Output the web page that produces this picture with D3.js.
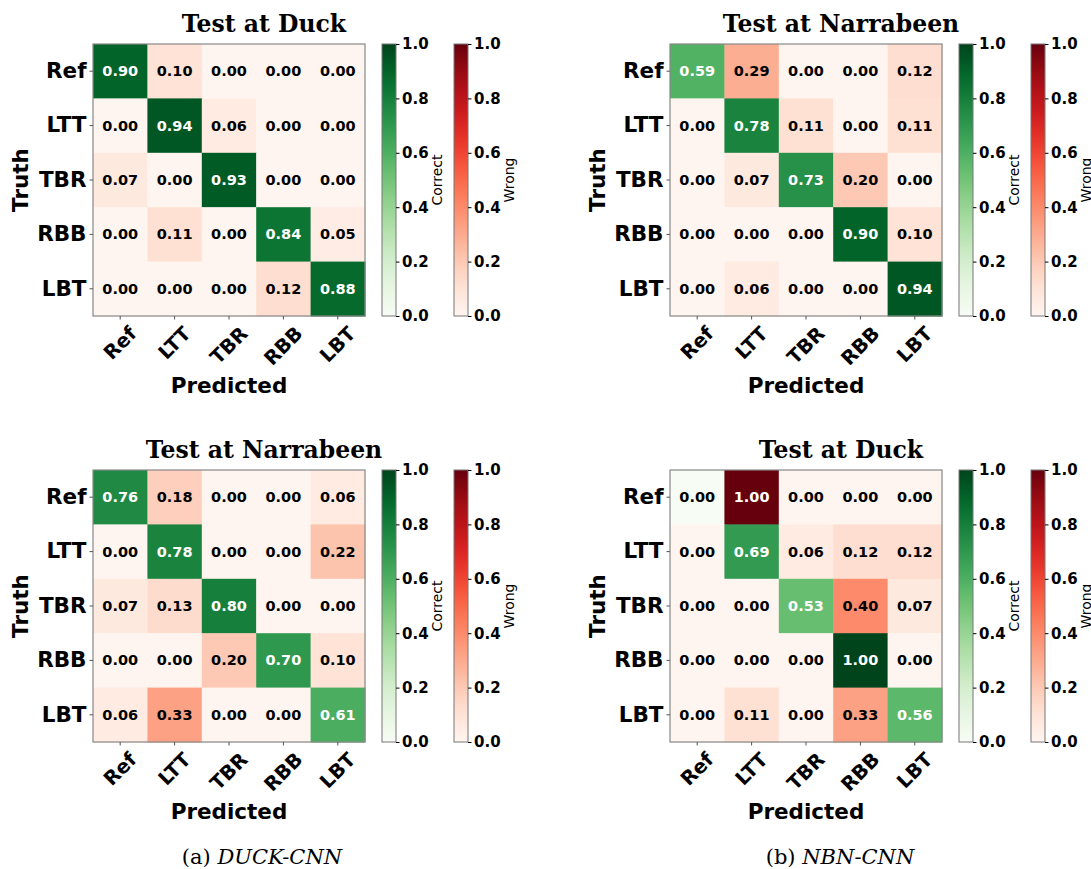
<!DOCTYPE html>
<html>
<head>
<meta charset="utf-8">
<script src="https://cdn.jsdelivr.net/npm/d3@7"></script>
<style>
  body { margin: 0; background: #fff; }
  svg { display: block; }
</style>
</head>
<body>
<svg class="confusion"></svg>
<script>
// classes along both axes
const classes = ['Ref', 'LTT', 'TBR', 'RBB', 'LBT'];

// rows = truth, columns = predicted
const duckCnnAtDuck = [
	[0.90, 0.10, 0.00, 0.00, 0.00],
	[0.00, 0.94, 0.06, 0.00, 0.00],
	[0.07, 0.00, 0.93, 0.00, 0.00],
	[0.00, 0.11, 0.00, 0.84, 0.05],
	[0.00, 0.00, 0.00, 0.12, 0.88]
];
const nbnCnnAtNarrabeen = [
	[0.59, 0.29, 0.00, 0.00, 0.12],
	[0.00, 0.78, 0.11, 0.00, 0.11],
	[0.00, 0.07, 0.73, 0.20, 0.00],
	[0.00, 0.00, 0.00, 0.90, 0.10],
	[0.00, 0.06, 0.00, 0.00, 0.94]
];
const duckCnnAtNarrabeen = [
	[0.76, 0.18, 0.00, 0.00, 0.06],
	[0.00, 0.78, 0.00, 0.00, 0.22],
	[0.07, 0.13, 0.80, 0.00, 0.00],
	[0.00, 0.00, 0.20, 0.70, 0.10],
	[0.06, 0.33, 0.00, 0.00, 0.61]
];
const nbnCnnAtDuck = [
	[0.00, 1.00, 0.00, 0.00, 0.00],
	[0.00, 0.69, 0.06, 0.12, 0.12],
	[0.00, 0.00, 0.53, 0.40, 0.07],
	[0.00, 0.00, 0.00, 1.00, 0.00],
	[0.00, 0.11, 0.00, 0.33, 0.56]
];

const panelTitles = ['Test at Duck', 'Test at Narrabeen', 'Test at Narrabeen', 'Test at Duck'];
const colorbarTicks = [0, 0.2, 0.4, 0.6, 0.8, 1.0];
const captionTags = ['(a) ', '(b) '];
const captionNames = ['DUCK-CNN', 'NBN-CNN'];

const svg = d3.select('.confusion')
	.attr('width', 1091)
	.attr('height', 869);

const size = 272,
	panelOrigins = [[93, 44], [670, 44], [93, 470], [670, 470]],
	matrices = [duckCnnAtDuck, nbnCnnAtNarrabeen, duckCnnAtNarrabeen, nbnCnnAtDuck],
	sans = 'DejaVu Sans, sans-serif',
	serif = 'DejaVu Serif, serif';

const xScale = d3.scaleBand().domain(classes).range([0, size]);
const yScale = d3.scaleBand().domain(classes).range([0, size]);
const cbScale = d3.scaleLinear().domain([0, 1]).range([size, 0]);

// gradients for colorbars
const defs = svg.append('defs');
[['gradGreens', d3.interpolateGreens], ['gradReds', d3.interpolateReds]].forEach(([id, interp]) => {
	const grad = defs.append('linearGradient')
		.attr('id', id)
		.attr('x1', 0).attr('y1', 1).attr('x2', 0).attr('y2', 0);
	d3.range(0, 1.0001, 0.05).forEach(t => {
		grad.append('stop').attr('offset', t).attr('stop-color', interp(t));
	});
});

const drawPanel = (matrix, title, origin) => {
	const g = svg.append('g')
		.attr('transform', `translate(${origin[0]}, ${origin[1]})`);

	const cells = [];
	matrix.forEach((row, i) => row.forEach((v, j) => cells.push({ truth: classes[i], pred: classes[j], v, diag: i === j })));

	const fillOf = d => d.diag ? d3.interpolateGreens(d.v) : d3.interpolateReds(d.v);

	g.selectAll('rect.cell')
		.data(cells)
		.enter().append('rect')
		.attr('class', 'cell')
		.attr('x', d => xScale(d.pred))
		.attr('y', d => yScale(d.truth))
		.attr('width', xScale.bandwidth() + 0.5)
		.attr('height', yScale.bandwidth() + 0.5)
		.attr('fill', fillOf);

	g.selectAll('text.val')
		.data(cells)
		.enter().append('text')
		.attr('class', 'val')
		.attr('x', d => xScale(d.pred) + xScale.bandwidth() / 2)
		.attr('y', d => yScale(d.truth) + yScale.bandwidth() / 2)
		.attr('text-anchor', 'middle')
		.attr('dominant-baseline', 'central')
		.attr('font-family', sans)
		.attr('font-weight', 'bold')
		.attr('font-size', 14.5)
		.attr('fill', d => d.v > 0.5 ? '#fff' : '#000')
		.text(d => d.v.toFixed(2));

	g.append('rect')
		.attr('width', size).attr('height', size)
		.attr('fill', 'none')
		.attr('stroke', '#888')
		.attr('stroke-width', 1.2);

	// y axis
	const yAxisG = g.append('g').call(d3.axisLeft(yScale).tickSize(3.5).tickPadding(3));
	yAxisG.select('.domain').remove();
	yAxisG.selectAll('line').attr('stroke', '#555');
	yAxisG.selectAll('text')
		.attr('font-family', sans)
		.attr('font-weight', 'bold')
		.attr('font-size', 21.5)
		.attr('fill', '#000');

	// x axis with 45 degree labels
	const xAxisG = g.append('g')
		.attr('transform', `translate(0, ${size})`)
		.call(d3.axisBottom(xScale).tickSize(3.5).tickFormat(''));
	xAxisG.select('.domain').remove();
	xAxisG.selectAll('line').attr('stroke', '#555');

	const fs = 19.5;
	classes.forEach(c => {
		const t = g.append('text')
			.attr('font-family', sans)
			.attr('font-weight', 'bold')
			.attr('font-size', fs)
			.attr('text-anchor', 'middle')
			.attr('dominant-baseline', 'central')
			.text(c);
		const w = t.node().getComputedTextLength();
		const H = (w + 0.9 * fs) / Math.SQRT2;
		t.attr('transform', `translate(${xScale(c) + xScale.bandwidth() / 2}, ${size + 8 + H / 2}) rotate(-45)`);
	});

	g.append('text')
		.attr('x', size / 2)
		.attr('y', size + 69)
		.attr('text-anchor', 'middle')
		.attr('dominant-baseline', 'central')
		.attr('font-family', sans)
		.attr('font-weight', 'bold')
		.attr('font-size', 21.5)
		.text('Predicted');

	g.append('text')
		.attr('transform', `translate(-73, ${size / 2}) rotate(-90)`)
		.attr('text-anchor', 'middle')
		.attr('dominant-baseline', 'central')
		.attr('font-family', sans)
		.attr('font-weight', 'bold')
		.attr('font-size', 21.5)
		.text('Truth');

	g.append('text')
		.attr('x', 171)
		.attr('y', -12)
		.attr('text-anchor', 'middle')
		.attr('font-family', serif)
		.attr('font-weight', 'bold')
		.attr('font-size', 23.5)
		.text(title);

	// colorbars
	[['gradGreens', 289, 'Correct'], ['gradReds', 361, 'Wrong']].forEach(([id, dx, label]) => {
		const cb = g.append('g').attr('transform', `translate(${dx}, 0)`);
		cb.append('rect')
			.attr('width', 14).attr('height', size)
			.attr('fill', `url(#${id})`)
			.attr('stroke', '#777')
			.attr('stroke-width', 1);
		const ax = cb.append('g')
			.attr('transform', 'translate(14, 0)')
			.call(d3.axisRight(cbScale).tickValues(colorbarTicks).tickFormat(d3.format('.1f')).tickSize(3.5).tickPadding(2.5));
		ax.select('.domain').remove();
		ax.selectAll('text')
			.attr('font-family', sans)
			.attr('font-weight', 'bold')
			.attr('font-size', 15)
			.attr('fill', '#000');
		cb.append('text')
			.attr('transform', `translate(55, ${size / 2}) rotate(-90)`)
			.attr('text-anchor', 'middle')
			.attr('dominant-baseline', 'central')
			.attr('font-family', sans)
			.attr('font-size', 14)
			.text(label);
	});
};

matrices.forEach((m, i) => drawPanel(m, panelTitles[i], panelOrigins[i]));

// sub-figure captions
[262, 840].forEach((cx, i) => {
	const t = svg.append('text')
		.attr('x', cx)
		.attr('y', 864)
		.attr('text-anchor', 'middle')
		.attr('font-family', serif)
		.attr('font-size', 21);
	t.append('tspan').text(captionTags[i]);
	t.append('tspan').attr('font-style', 'italic').text(captionNames[i]);
});
</script>
</body>
</html>
